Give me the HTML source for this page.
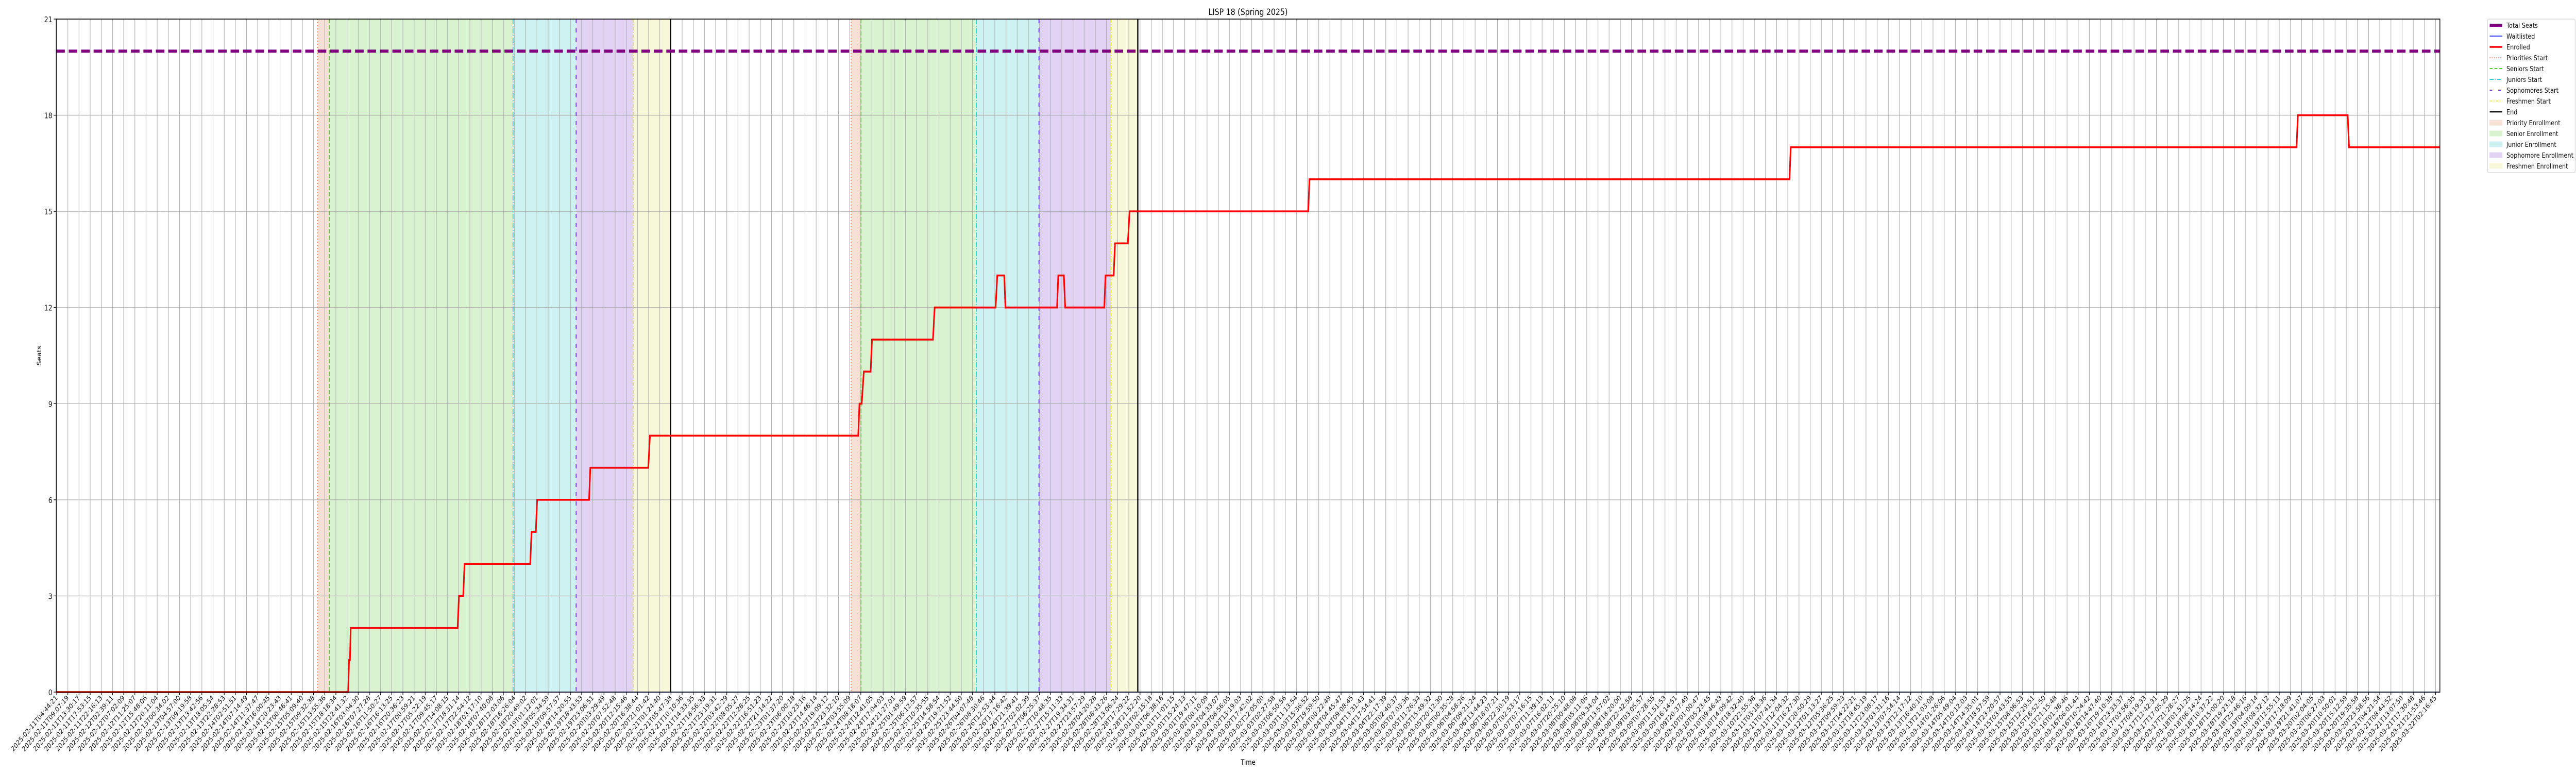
<!DOCTYPE html>
<html><head><meta charset="utf-8"><style>
html,body{margin:0;padding:0;background:#fff;width:100%;height:100%;overflow:hidden;}
svg{display:block;width:100vw;height:100vh;font-family:"DejaVu Sans","Liberation Sans",sans-serif;}
</style></head>
<body>
<svg id="chart" viewBox="0 0 6000 1500" preserveAspectRatio="none" xmlns="http://www.w3.org/2000/svg">
<text x="2907" y="29" font-size="17" text-anchor="middle">LISP 18 (Spring 2025)</text>
<text x="96" y="690" font-size="14" text-anchor="middle" transform="rotate(-90 96 690)">Seats</text>
<text x="2907" y="1484" font-size="14" text-anchor="middle">Time</text>
<g id="plot"></g>
<g id="legend"></g>
</svg>
<script>
// ---- data ----
const yTicks = [0, 3, 6, 9, 12, 15, 18, 21];
const totalSeats = 20;
// enrolled series: x in sample-index units, value in seats
const enrolledX = [0, 26.10, 26.18, 26.26, 26.33, 35.90, 36.02, 36.40, 36.52, 42.40, 42.52, 42.90, 43.02, 47.67, 47.78, 52.97, 53.12, 71.77, 71.88, 72.08, 72.27, 72.88, 73.00, 78.46, 78.61, 84.07, 84.22, 84.84, 84.95, 89.57, 89.68, 90.18, 90.30, 93.80, 93.91, 94.64, 94.76, 95.91, 96.06, 112.06, 112.17, 155.15, 155.26, 200.55, 200.67, 205.13, 205.25, 213.4];
const enrolledY = [0, 0, 1, 1, 2, 2, 3, 3, 4, 4, 5, 5, 6, 6, 7, 7, 8, 8, 9, 9, 10, 10, 11, 11, 12, 12, 13, 13, 12, 12, 13, 13, 12, 12, 13, 13, 14, 14, 15, 15, 16, 16, 17, 17, 18, 18, 17, 17];
const waitlistX = [0, 213.4];
const waitlistY = [0, 0];
// phase event positions (sample index) for two enrollment rounds
const priorityStarts = [23.37, 71.13];
const seniorStarts = [24.41, 72.02];
const juniorStarts = [40.86, 82.34];
const sophomoreStarts = [46.51, 87.95];
const freshmenStarts = [51.63, 94.41];
const endTimes = [54.97, 96.80];
// x tick labels: first & last timestamps, 214 ticks
const tickStart = "2025-02-11T04:44:21";
const tickEnd = "2025-03-22T02:16:45";
const tickCount = 214;

// ---- axes ----
const X0 = 132, DX = 26.014, PL = 131, PR = 5683, PT = 37, PB = 1343;
const yMin = 0, yMax = 21;
function xs(i){ return X0 + i*DX; }
function ys(v){ return PB - (v - yMin)/(yMax - yMin)*(PB - PT); }

const NS = "http://www.w3.org/2000/svg";
const plot = document.getElementById('plot');
function mk(tag, attrs, parent){
  const e = document.createElementNS(NS, tag);
  for (const k in attrs) e.setAttribute(k, attrs[k]);
  (parent||plot).appendChild(e);
  return e;
}

// shaded regions
const shadeGroups = [
  [priorityStarts, seniorStarts, '#f7e0d5', 'priority-enrollment-region'],
  [seniorStarts, juniorStarts, '#d9f3d1', 'senior-enrollment-region'],
  [juniorStarts, sophomoreStarts, '#cef1f2', 'junior-enrollment-region'],
  [sophomoreStarts, freshmenStarts, '#e1d3f4', 'sophomore-enrollment-region'],
  [freshmenStarts, endTimes, '#f7f8d9', 'freshmen-enrollment-region']
];
shadeGroups.forEach(g => {
  for (let k = 0; k < g[0].length; k++) {
    const r = mk('rect', {x: xs(g[0][k]), y: PT, width: xs(g[1][k]) - xs(g[0][k]), height: PB - PT, fill: g[2]});
    
    
  }
});

// grid + ticks
const tickLabels = [];
(function(){
  const t0 = Date.parse(tickStart + "Z"), t1 = Date.parse(tickEnd + "Z");
  for (let i = 0; i < tickCount; i++) {
    const d = new Date(t0 + (t1 - t0) * i / (tickCount - 1));
    tickLabels.push(d.toISOString().slice(0, 19));
  }
})();
tickLabels.forEach((lab, i) => {
  const x = xs(i);
  const gl = mk('line', {x1: x, x2: x, y1: PT, y2: PB, stroke: '#b0b0b0', 'stroke-width': 1.3});
  
  
  const tk = mk('line', {x1: x, x2: x, y1: PB, y2: PB + 6, stroke: '#000', 'stroke-width': 1.3});
  
  
  const t = mk('text', {x: x + 3, y: PB + 12, 'font-size': 13.5, 'text-anchor': 'end', transform: `rotate(-45 ${x + 3} ${PB + 12})`, fill: '#111'});
  t.textContent = lab;
  
  
});
yTicks.forEach(v => {
  const y = ys(v);
  const gl = mk('line', {x1: PL, x2: PR, y1: y, y2: y, stroke: '#b0b0b0', 'stroke-width': 1.3});
  
  
  const tk = mk('line', {x1: PL - 6, x2: PL, y1: y, y2: y, stroke: '#000', 'stroke-width': 1.3});
  
  
  const t = mk('text', {x: PL - 9, y: y + 6, 'font-size': 15, 'text-anchor': 'end', fill: '#111'});
  t.textContent = v;
  
  
});

// event lines
const evGroups = [
  [priorityStarts, '#f0743a', '2,4', 1.6, 'priorities-start-line'],
  [seniorStarts, '#3fcc1c', '8,4', 1.8, 'seniors-start-line'],
  [juniorStarts, '#12c3d2', '10,3,2,3', 1.8, 'juniors-start-line'],
  [sophomoreStarts, '#6a2fe0', '8,10', 2, 'sophomores-start-line'],
  [freshmenStarts, '#dede3a', '7,3,2,3', 1.6, 'freshmen-start-line'],
  [endTimes, '#000', '', 2.8, 'end-line']
];
evGroups.forEach(g => {
  g[0].forEach(v => {
    const a = {x1: xs(v), x2: xs(v), y1: PT, y2: PB, stroke: g[1], 'stroke-width': g[3]};
    if (g[2]) a['stroke-dasharray'] = g[2];
    const l = mk('line', a);
    
    
  });
});

// total seats
const ts = mk('line', {x1: PL, x2: PR, y1: ys(totalSeats), y2: ys(totalSeats), stroke: '#800080', 'stroke-width': 6, 'stroke-dasharray': '20,9'});



// waitlisted
const wl = mk('polyline', {points: waitlistX.map((x, k) => xs(x) + ',' + ys(waitlistY[k])).join(' '), fill: 'none', stroke: '#0000ff', 'stroke-width': 1.6});



// enrolled
const en = mk('polyline', {points: enrolledX.map((x, k) => xs(x) + ',' + ys(enrolledY[k])).join(' '), fill: 'none', stroke: '#ff0000', 'stroke-width': 3.6, 'stroke-linejoin': 'miter'});



// frame
const fr = mk('rect', {x: PL, y: PT, width: PR - PL, height: PB - PT, fill: 'none', stroke: '#000', 'stroke-width': 1.6});



// legend
const lg = document.getElementById('legend');
mk('rect', {x: 5794, y: 37, width: 204, height: 298, rx: 3, fill: '#fff', stroke: '#d0d0d0', 'stroke-width': 1.2}, lg);
const legendItems = [
  ['Total Seats', 'line', '#800080', 6, ''],
  ['Waitlisted', 'line', '#0000ff', 1.6, ''],
  ['Enrolled', 'line', '#ff0000', 3.6, ''],
  ['Priorities Start', 'line', '#f0743a', 1.6, '2,3'],
  ['Seniors Start', 'line', '#3fcc1c', 1.8, '7,4'],
  ['Juniors Start', 'line', '#12c3d2', 1.8, '9,3,2,3'],
  ['Sophomores Start', 'line', '#6a2fe0', 2, '6,14'],
  ['Freshmen Start', 'line', '#dede3a', 1.6, '6,3,2,3'],
  ['End', 'line', '#000', 2.4, ''],
  ['Priority Enrollment', 'patch', '#f7e0d5'],
  ['Senior Enrollment', 'patch', '#d9f3d1'],
  ['Junior Enrollment', 'patch', '#cef1f2'],
  ['Sophomore Enrollment', 'patch', '#e1d3f4'],
  ['Freshmen Enrollment', 'patch', '#f7f8d9']
];
legendItems.forEach((it, k) => {
  const y = 49 + k * 21;
  const g = mk('g', {}, lg);
  
  
  if (it[1] === 'line') {
    const a = {x1: 5799, x2: 5828, y1: y, y2: y, stroke: it[2], 'stroke-width': it[3]};
    if (it[4]) a['stroke-dasharray'] = it[4];
    mk('line', a, g);
  } else {
    mk('rect', {x: 5799, y: y - 5, width: 29, height: 10, fill: it[2], stroke: it[2]}, g);
  }
  const t = mk('text', {x: 5838, y: y + 5, 'font-size': 13.5, fill: '#111', textLength: k === 12 ? 156 : null}, g);
  if (k !== 12) t.removeAttribute('textLength');
  t.textContent = it[0];
});
</script>
</body></html>
